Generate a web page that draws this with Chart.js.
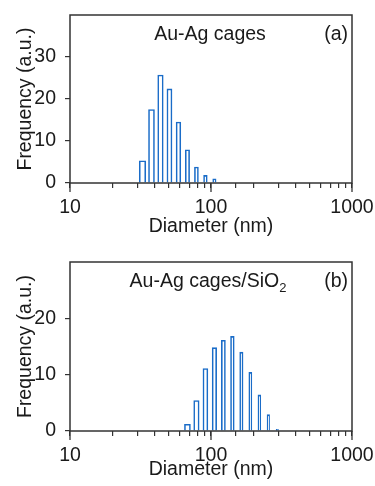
<!DOCTYPE html>
<html>
<head>
<meta charset="utf-8">
<script src="https://cdn.jsdelivr.net/npm/chart.js@4.4.0/dist/chart.umd.min.js"></script>
<style>
  html, body { margin: 0; padding: 0; background: #fff; }
  canvas { display: block; }
</style>
</head>
<body>
<canvas id="chartA" width="375" height="243"></canvas>
<canvas id="chartB" width="375" height="243"></canvas>
<script>
// ==========================
// DATA
// ==========================

// (a) Au-Ag cages: bin centres (nm) and frequency
const binsA = [32.67, 37.84, 43.82, 50.75, 58.77, 68.06, 78.82, 91.28, 105.7];
const freqA = [5.3, 17.5, 25.7, 22.4, 14.5, 7.9, 3.8, 1.8, 1.0];

// (b) Au-Ag cages/SiO2
const binsB = [68.06, 78.82, 91.28, 105.7, 122.4, 141.8, 164.2, 190.1, 220.2, 255.0, 295.3];
const freqB = [1.2, 5.4, 11.1, 14.8, 16.1, 16.8, 14.0, 10.4, 6.4, 2.9, 0.3];

const xTickLabels = [10, 100, 1000];
const yTicksA = [0, 10, 20, 30];
const yTicksB = [0, 10, 20];

// ==========================
// STYLE
// ==========================

const FONT = '"Liberation Sans", Arial, Helvetica, sans-serif';
const SIZE = 19.5;
const INK = '#1a1a1a';
const FRAME = '#333333';
const BLUE = '#1a6cc8';

function isDecade(v) {
    const l = Math.log10(v);
    return Math.abs(l - Math.round(l)) < 1e-9;
}

// box around the plot, long decade ticks, caption + panel letter
const panelPlugin = {
    id: 'panel',
    afterDatasetsDraw(chart, args, opts) {
        const { ctx, chartArea: a, scales: { x } } = chart;
        ctx.save();
        ctx.strokeStyle = FRAME;
        ctx.lineWidth = 1.5;
        ctx.strokeRect(a.left, a.top, a.right - a.left, a.bottom - a.top);

        ctx.lineWidth = 1.3;
        xTickLabels.forEach(v => {
            const px = x.getPixelForValue(v);
            ctx.beginPath();
            ctx.moveTo(px, a.bottom);
            ctx.lineTo(px, a.bottom + 9);
            ctx.stroke();
        });

        ctx.fillStyle = INK;
        ctx.textBaseline = 'alphabetic';
        const base = a.top + 25;
        ctx.font = SIZE + 'px ' + FONT;
        const mainW = ctx.measureText(opts.caption).width;
        ctx.font = '13px ' + FONT;
        const subW = opts.sub ? ctx.measureText(opts.sub).width : 0;
        const cx = (a.left + a.right) / 2 + opts.shift;
        const start = cx - (mainW + subW) / 2;
        ctx.font = SIZE + 'px ' + FONT;
        ctx.textAlign = 'left';
        ctx.fillText(opts.caption, start, base);
        if (opts.sub) {
            ctx.font = '13px ' + FONT;
            ctx.fillText(opts.sub, start + mainW, base + 5);
        }
        ctx.font = SIZE + 'px ' + FONT;
        ctx.textAlign = 'right';
        ctx.fillText(opts.letter, a.right - 4, base);
        ctx.restore();
    }
};

function makePanel(id, bins, freq, yMax, yTicks, barWidth, topPad, xHeight, caption, sub, letter, shift) {

    const font = { family: FONT, size: SIZE };

    new Chart(document.getElementById(id), {

        type: 'bar',

        data: {
            datasets: bins.map((d, i) => ({
                data: [{ x: d, y: freq[i] }],
                grouped: false,
                barThickness: barWidth(d),
                backgroundColor: '#ffffff',
                borderColor: BLUE,
                borderWidth: 1.6
            }))
        },

        options: {

            responsive: false,
            animation: false,
            devicePixelRatio: 1,

            layout: {
                padding: { left: 0, right: 23, top: topPad, bottom: 0 }
            },

            plugins: {
                legend: { display: false },
                tooltip: { enabled: false },
                panel: { caption: caption, sub: sub, letter: letter, shift: shift }
            },

            scales: {

                x: {
                    type: 'logarithmic',
                    min: 10,
                    max: 1000,
                    offset: false,
                    border: { display: false },
                    grid: {
                        offset: false,
                        drawOnChartArea: false,
                        tickLength: 5,
                        color: FRAME,
                        lineWidth: 1.2
                    },
                    ticks: {
                        autoSkip: false,
                        maxRotation: 0,
                        padding: 8,
                        color: INK,
                        font: font,
                        callback: v => isDecade(v) ? String(v) : ''
                    },
                    title: {
                        display: true,
                        text: 'Diameter (nm)',
                        color: INK,
                        font: font,
                        padding: { top: 0, bottom: 5 }
                    },
                    afterFit: s => {
                        s.height = xHeight;
                        s.paddingLeft = 0;
                        s.paddingRight = 0;
                    }
                },

                y: {
                    min: 0,
                    max: yMax,
                    border: { display: false },
                    grid: {
                        drawOnChartArea: false,
                        tickLength: 5,
                        color: FRAME,
                        lineWidth: 1.2
                    },
                    ticks: {
                        stepSize: 10,
                        padding: 9,
                        color: INK,
                        font: font,
                        callback: v => yTicks.includes(v) ? String(v) : null
                    },
                    title: {
                        display: true,
                        text: 'Frequency (a.u.)',
                        color: INK,
                        font: font,
                        padding: { top: 14, bottom: 0 }
                    },
                    afterFit: s => {
                        s.width = 70;
                        s.paddingTop = 0;
                        s.paddingBottom = 0;
                    }
                }

            }

        },

        plugins: [panelPlugin]

    });
}

// ==========================
// PANEL (a)
// ==========================

makePanel('chartA', binsA, freqA, 40, yTicksA,
    d => 6.5 * Math.pow(d / 32.67, -0.55),
    15, 60, 'Au-Ag cages', '', '(a)', -1);

// ==========================
// PANEL (b)
// ==========================

makePanel('chartB', binsB, freqB, 30, yTicksB,
    d => 6.0 * Math.pow(d / 68.06, -0.65),
    19, 55, 'Au-Ag cages/SiO', '2', '(b)', -3);
</script>
</body>
</html>
